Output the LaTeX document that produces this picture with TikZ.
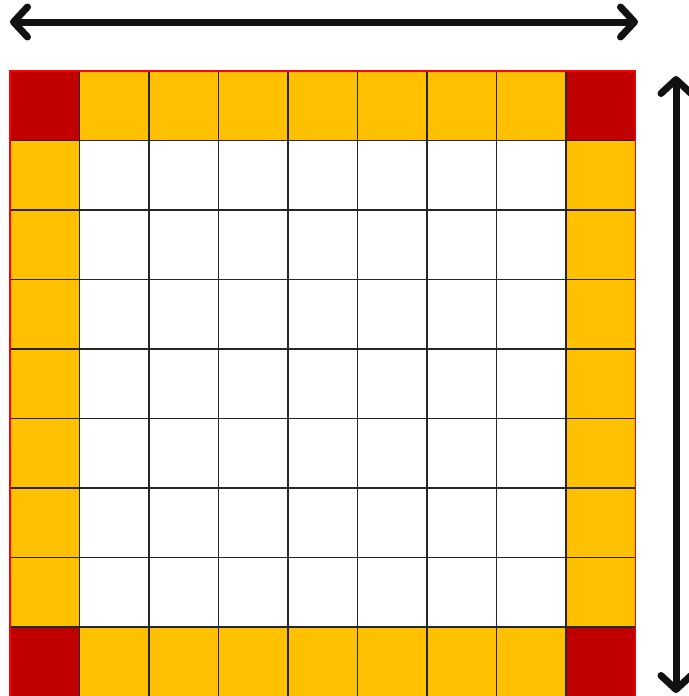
\documentclass[tikz,border=0pt]{standalone}
\usetikzlibrary{arrows.meta}
\definecolor{cornerred}{HTML}{C00000}
\definecolor{edgeorange}{HTML}{FFC000}
\definecolor{arrowblack}{HTML}{111111}
\begin{document}
\begin{tikzpicture}[x=1pt,y=-1pt,
  dimarrow/.style={line width=7pt, color=arrowblack, line cap=round,
    {Straight Barb[length=14pt,width=30pt,line cap=round,line join=round]}-{Straight Barb[length=14pt,width=30pt,line cap=round,line join=round]}},
  gridline/.style={line width=1.8pt, color=black!85},
  borderline/.style={line width=1.8pt, color=red}]
\useasboundingbox (0,0) rectangle (688,696);
\def\cs{69.5}
\def\ox{10}
\def\oy{71}
% fills
\foreach \i in {0,...,8}{
  \foreach \j in {0,...,8}{
    \pgfmathtruncatemacro{\kind}{((\i==0 || \i==8) ? 1 : 0)+((\j==0 || \j==8) ? 1 : 0)}
    \ifnum\kind=2
      \fill[cornerred] ({\ox+\i*\cs},{\oy+\j*\cs}) rectangle ++(\cs,\cs);
    \else\ifnum\kind=1
      \fill[edgeorange] ({\ox+\i*\cs},{\oy+\j*\cs}) rectangle ++(\cs,\cs);
    \fi\fi
  }
}
% grid lines
\foreach \k in {1,...,8}{
  \draw[gridline] ({\ox+\k*\cs},\oy) -- ({\ox+\k*\cs},{\oy+9*\cs});
  \draw[gridline] (\ox,{\oy+\k*\cs}) -- ({\ox+9*\cs},{\oy+\k*\cs});
}
\draw[borderline] (\ox,\oy) rectangle ({\ox+9*\cs},{\oy+9*\cs});
% arrows
\coordinate (hl) at (10,22);
\coordinate (hr) at (638,22);
\coordinate (vt) at (676,76);
\coordinate (vb) at (676,693);
\draw[dimarrow] (hl) -- (hr);
\draw[dimarrow] (vt) -- (vb);
\end{tikzpicture}
\end{document}
